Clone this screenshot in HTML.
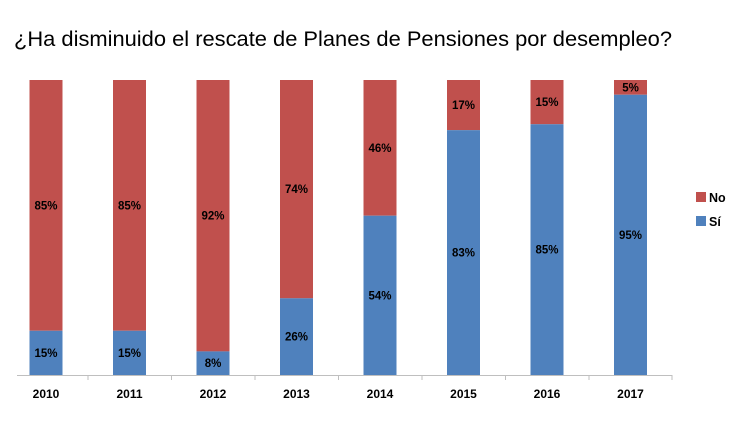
<!DOCTYPE html>
<html><head><meta charset="utf-8"><style>body{margin:0;background:#fff}</style></head>
<body>
<svg width="748" height="434" xmlns="http://www.w3.org/2000/svg" font-family="Liberation Sans, sans-serif">
<rect width="748" height="434" fill="#fff"/>
<text x="14" y="46" font-size="21" textLength="658" lengthAdjust="spacingAndGlyphs" fill="#000">¿Ha disminuido el rescate de Planes de Pensiones por desempleo?</text>
<g>
<rect x="29.5" y="80" width="33" height="250.75" fill="#C0504D"/><rect x="29.5" y="330.75" width="33" height="44.25" fill="#4F81BD"/>
<rect x="113" y="80" width="33" height="250.75" fill="#C0504D"/><rect x="113" y="330.75" width="33" height="44.25" fill="#4F81BD"/>
<rect x="196.5" y="80" width="33" height="271.4" fill="#C0504D"/><rect x="196.5" y="351.4" width="33" height="23.6" fill="#4F81BD"/>
<rect x="280" y="80" width="33" height="218.3" fill="#C0504D"/><rect x="280" y="298.3" width="33" height="76.7" fill="#4F81BD"/>
<rect x="363.5" y="80" width="33" height="135.7" fill="#C0504D"/><rect x="363.5" y="215.7" width="33" height="159.3" fill="#4F81BD"/>
<rect x="447" y="80" width="33" height="50.15" fill="#C0504D"/><rect x="447" y="130.15" width="33" height="244.85" fill="#4F81BD"/>
<rect x="530.5" y="80" width="33" height="44.25" fill="#C0504D"/><rect x="530.5" y="124.25" width="33" height="250.75" fill="#4F81BD"/>
<rect x="614" y="80" width="33" height="14.75" fill="#C0504D"/><rect x="614" y="94.75" width="33" height="280.25" fill="#4F81BD"/>
</g>
<g font-size="11.5" font-weight="bold" text-anchor="middle" fill="#000">
<text x="46" y="209.4">85%</text><text x="46" y="356.9">15%</text>
<text x="129.5" y="209.4">85%</text><text x="129.5" y="356.9">15%</text>
<text x="213" y="219.7">92%</text><text x="213" y="367.2">8%</text>
<text x="296.5" y="193.2">74%</text><text x="296.5" y="340.7">26%</text>
<text x="380" y="151.9">46%</text><text x="380" y="299.4">54%</text>
<text x="463.5" y="109.1">17%</text><text x="463.5" y="256.6">83%</text>
<text x="547" y="106.1">15%</text><text x="547" y="253.6">85%</text>
<text x="630.5" y="91.4">5%</text><text x="630.5" y="238.9">95%</text>
</g>
<g font-size="12" font-weight="bold" text-anchor="middle" fill="#000">
<text x="46" y="398">2010</text><text x="129.5" y="398">2011</text><text x="213" y="398">2012</text><text x="296.5" y="398">2013</text><text x="380" y="398">2014</text><text x="463.5" y="398">2015</text><text x="547" y="398">2016</text><text x="630.5" y="398">2017</text>
</g>
<line x1="17" y1="375.5" x2="672" y2="375.5" stroke="#bfbfbf" stroke-width="1"/>
<g stroke="#bfbfbf">
<line x1="88" y1="375" x2="88" y2="380"/><line x1="171.5" y1="375" x2="171.5" y2="380"/><line x1="255" y1="375" x2="255" y2="380"/><line x1="338.5" y1="375" x2="338.5" y2="380"/><line x1="422" y1="375" x2="422" y2="380"/><line x1="505.5" y1="375" x2="505.5" y2="380"/><line x1="589" y1="375" x2="589" y2="380"/><line x1="672" y1="375" x2="672" y2="380"/>
</g>
<rect x="696" y="192" width="10" height="10" fill="#C0504D"/>
<text x="709" y="202" font-size="12.5" font-weight="bold">No</text>
<rect x="696" y="216" width="10" height="10" fill="#4F81BD"/>
<text x="709" y="226" font-size="12.5" font-weight="bold">Sí</text>
</svg>
</body></html>
